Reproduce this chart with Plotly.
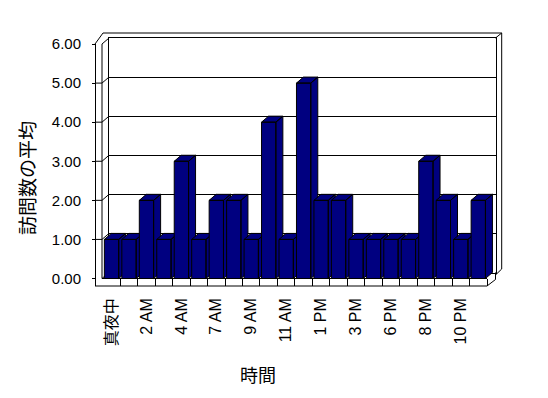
import plotly.graph_objects as go

# ---- data ----
categories = ["真夜中", "1 AM", "2 AM", "3 AM", "4 AM", "5 AM", "7 AM", "8 AM", "9 AM", "10 AM", "11 AM",
              "正午", "1 PM", "2 PM", "3 PM", "4 PM", "6 PM", "7 PM", "8 PM", "9 PM", "10 PM", "11 PM"]
values = [1, 1, 2, 1, 3, 1, 2, 2, 1, 4, 1, 5, 2, 2, 1, 1, 1, 1, 3, 2, 1, 2]
y_ticks = [0, 1, 2, 3, 4, 5, 6]
x_title = "時間"
y_title = "訪問数の平均"

# ---- geometry (page pixels; page body has an 8px margin) ----
OFF = 8
W, H = 548 - OFF, 398 - OFF
def px(x): return (x - OFF) / W
def py(y): return 1 - (y - OFF) / H

FONT = "Liberation Sans, Arial, Noto Sans CJK JP, sans-serif"
NAVY = "#000080"
n = len(values)
CX0 = 102.8             # front category start
CELL = (487.0 - CX0) / n
CX1 = 495.0             # extended domain end (room for depth)
Y0F, YTOP, YBOT = 278.5, 44.0, 286.0
UNIT = (Y0F - YTOP) / 6
DXP, DYP = 7.0, 6.0     # depth offset px
DX = DXP / CELL
DY = DYP / UNIT
HALF = 0.41

fig = go.Figure()

# back wall subplot (x, y)
fig.add_trace(go.Scatter(x=[], y=[], xaxis="x", yaxis="y", showlegend=False, hoverinfo="skip"))

# bars as pseudo-3D prisms on (x2, y2)
for i, v in enumerate(values):
    L, R = i - HALF, i + HALF
    side = [(R, 0), (R + DX, DY), (R + DX, v + DY), (R, v), (R, 0)]
    top = [(L, v), (R, v), (R + DX, v + DY), (L + DX, v + DY), (L, v)]
    front = [(L, 0), (R, 0), (R, v), (L, v), (L, 0)]
    xs, ys = [], []
    for poly in (side, top, front):
        xs += [p[0] for p in poly] + [None]
        ys += [p[1] for p in poly] + [None]
    fig.add_trace(go.Scatter(x=xs, y=ys, mode="lines", fill="toself", fillcolor=NAVY,
                             line=dict(color="black", width=1), xaxis="x2", yaxis="y2",
                             showlegend=False, hoverinfo="skip"))

shapes = []
def seg(x0, y0, x1, y1):
    shapes.append(dict(type="line", xref="paper", yref="paper", x0=px(x0), y0=py(y0),
                       x1=px(x1), y1=py(y1), line=dict(color="black", width=1), layer="below"))

# left wall
seg(102, YTOP, 102, Y0F)
for v in y_ticks[1:-1]:
    yf = Y0F - UNIT * v
    seg(95, yf, 102, yf)
    seg(102, yf, 109, yf - DYP)
seg(102, Y0F, 109, Y0F - DYP)
seg(102, YTOP, 109, YTOP - DYP)
seg(95, YTOP, 103, 33)
# top / right of back wall slab
seg(103, 33, 501.7, 33)
seg(495.5, YTOP - DYP, 501.7, 33)
seg(501.7, 33, 501.7, 269)
seg(501.7, 269, 495.5, 275)
seg(495.5, Y0F - DYP, 495.5, 279.5)
seg(495.5, 279.5, 487.0, YBOT)
# floor
seg(102, Y0F, 487.0, Y0F)
seg(95, YBOT, 487.0, YBOT)

even_idx = list(range(0, n, 2))
fig.update_layout(
    width=W, height=H,
    margin=dict(l=0, r=0, t=0, b=0, pad=0, autoexpand=False),
    paper_bgcolor="white", plot_bgcolor="rgba(0,0,0,0)",
    font=dict(family=FONT, size=15, color="black"),
    showlegend=False,
    xaxis=dict(domain=[px(109), px(495.5)], range=[0, 1], showgrid=False, zeroline=False,
               showline=True, mirror=True, linecolor="black", linewidth=1,
               ticks="", showticklabels=False, anchor="y", fixedrange=True),
    yaxis=dict(domain=[py(Y0F - DYP), py(YTOP - DYP)], range=[0, 6], tickvals=y_ticks,
               showgrid=True, gridcolor="black", gridwidth=1, zeroline=False,
               showline=True, mirror=True, linecolor="black", linewidth=1,
               ticks="", showticklabels=False, anchor="x", fixedrange=True),
    xaxis2=dict(domain=[px(CX0), px(CX1)], range=[-0.5, -0.5 + (CX1 - CX0) / CELL],
                anchor="y2", showgrid=False, zeroline=False, showline=False,
                tickmode="array", tickvals=even_idx, ticktext=[categories[i] for i in even_idx],
                ticks="", tickangle=-90, ticklabelstandoff=8,
                tickfont=dict(family=FONT, size=16, color="black"),
                minor=dict(tickmode="array", tickvals=[i + 0.5 for i in range(n)],
                           ticks="inside", ticklen=DYP + 1.5, tickcolor="black", tickwidth=1,
                           showgrid=False),
                fixedrange=True),
    yaxis2=dict(domain=[py(YBOT), py(YTOP)], range=[-(YBOT - Y0F) / UNIT, 6],
                anchor="free", position=px(95), side="left",
                tickmode="array", tickvals=y_ticks, ticktext=[f"{t:.2f}" for t in y_ticks],
                ticks="outside", ticklen=3, tickcolor="black", ticklabelstandoff=8,
                showline=True, linecolor="black", linewidth=1, showgrid=False, zeroline=False,
                tickfont=dict(family=FONT, size=15, color="black"), fixedrange=True),
    shapes=shapes,
    annotations=[
        dict(text=x_title, x=px(258), y=py(376), xref="paper", yref="paper", showarrow=False,
             xanchor="center", yanchor="middle",
             font=dict(family=FONT, size=18, color="black")),
        dict(text=y_title, x=px(28), y=py(178), xref="paper", yref="paper", showarrow=False,
             xanchor="center", yanchor="middle",
             textangle=-90, font=dict(family=FONT, size=19, color="black")),
    ],
)

fig.write_html("out.html")
